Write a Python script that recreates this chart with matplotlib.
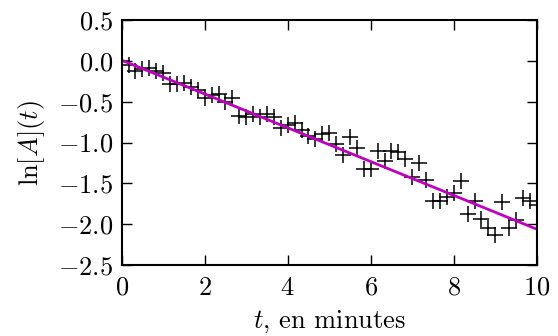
import matplotlib
matplotlib.use('Agg')
import matplotlib.pyplot as plt
import numpy as np

# measured ln[A] values, one every 10 s
t = np.linspace(0, 10, 61)
ln_a = [0.0, -0.05, -0.12, -0.10, -0.08, -0.12, -0.15, -0.28, -0.28, -0.27,
        -0.32, -0.36, -0.45, -0.42, -0.40, -0.50, -0.45, -0.67, -0.68, -0.65,
        -0.68, -0.65, -0.68, -0.82, -0.78, -0.76, -0.85, -0.92, -0.95, -0.90,
        -0.88, -1.02, -1.15, -0.93, -1.07, -1.32, -1.32, -1.10, -1.22, -1.10,
        -1.12, -1.20, -1.42, -1.25, -1.46, -1.72, -1.72, -1.67, -1.62, -1.47,
        -1.87, -1.71, -1.93, -2.05, -2.13, -1.73, -2.05, -1.95, -1.68, -1.72,
        -1.76]

# linear fit, end points
fit_t = [0, 10]
fit_y = [0.01, -2.06]

plt.rcParams['font.family'] = 'serif'
plt.rcParams['font.serif'] = ['cmr10']
plt.rcParams['mathtext.fontset'] = 'cm'
plt.rcParams['axes.formatter.use_mathtext'] = True
plt.rcParams['font.size'] = 19

fig = plt.figure(figsize=(5.58, 3.36), dpi=100)
ax = fig.add_axes([0.218, 0.211, 0.744, 0.729])

ax.plot(t, ln_a, 'k+', markersize=11, markeredgewidth=1.1)
ax.plot(fit_t, fit_y, color='#bf00bf', linewidth=2)

ax.set_xlim(0, 10)
ax.set_ylim(-2.5, 0.5)
ax.set_xticks([0, 2, 4, 6, 8, 10])
ax.set_yticks([-2.5, -2.0, -1.5, -1.0, -0.5, 0.0, 0.5])
ax.tick_params(direction='in', top=True, right=True, length=7, width=1)
ax.tick_params(axis='x', pad=8)
ax.tick_params(axis='y', pad=6)
for s in ax.spines.values():
    s.set_linewidth(1.5)

ax.set_xlabel(r'$t$, en minutes', labelpad=6)
ax.set_ylabel(r'$\ln[A](t)$', labelpad=8)

fig.savefig('out.png', dpi=100)
